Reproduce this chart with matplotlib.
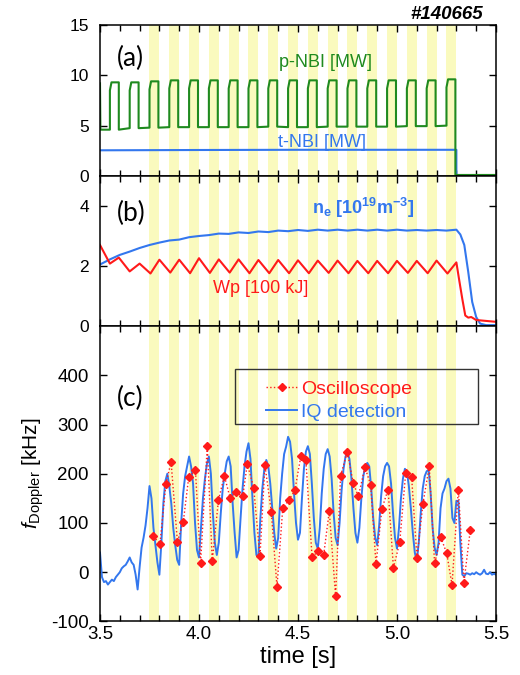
import numpy as np
import matplotlib as mpl
mpl.use('Agg')
import matplotlib.pyplot as plt
from matplotlib.patches import Rectangle
from matplotlib.ticker import MultipleLocator

plt.rcParams['font.family'] = ['Liberation Sans', 'DejaVu Sans']
plt.rcParams['mathtext.fontset'] = 'custom'
plt.rcParams['mathtext.rm'] = 'Liberation Sans'
plt.rcParams['mathtext.it'] = 'Liberation Sans:italic'
plt.rcParams['mathtext.bf'] = 'Liberation Sans:bold'
plt.rcParams['axes.unicode_minus'] = False

GREEN = '#1f8a1f'
BLUE = '#3377ee'
RED = '#ff1a1a'
BAND = '#fafabe'

# p-NBI modulation windows (shaded)
band_start = [3.75, 3.85, 3.95, 4.05, 4.15, 4.25, 4.35, 4.45,
              4.55, 4.65, 4.75, 4.85, 4.95, 5.05, 5.15, 5.25]
band_width = 0.05

# (a) heating power
pnbi_on = [3.55, 3.65, 3.75, 3.85, 3.95, 4.05, 4.15, 4.25, 4.35,
           4.45, 4.55, 4.65, 4.75, 4.85, 4.95, 5.05, 5.15, 5.25]
pnbi_high = [9.3, 9.3, 9.4, 9.5, 9.5, 9.5, 9.5, 9.5, 9.5,
             9.5, 9.5, 9.5, 9.5, 9.5, 9.5, 9.5, 9.5, 9.6]
pnbi_low = [4.6, 4.75, 4.8, 4.85, 4.85, 4.85, 4.85, 4.85, 4.9,
            4.85, 4.85, 4.9, 4.9, 4.9, 4.9, 4.95, 4.95, 5.0]
pnbi_width = 0.045
pnbi_start = 9.2
pnbi_after = 0.1

tnbi_t = [3.50, 4.00, 4.50, 5.00, 5.30, 5.30, 5.50]
tnbi_v = [2.55, 2.58, 2.6, 2.6, 2.6, 0.0, 0.0]

# (b) density and stored energy
ne_t = [3.50, 3.55, 3.60, 3.65, 3.70, 3.75, 3.80, 3.85, 3.90, 3.95,
        4.00, 4.05, 4.10, 4.15, 4.20, 4.25, 4.30, 4.35, 4.40, 4.45,
        4.50, 4.55, 4.60, 4.65, 4.70, 4.75, 4.80, 4.85, 4.90, 4.95,
        5.00, 5.05, 5.10, 5.15, 5.20, 5.25, 5.30, 5.32, 5.34, 5.36,
        5.38, 5.40, 5.42, 5.45, 5.50]
ne_v = [2.05, 2.22, 2.37, 2.48, 2.60, 2.70, 2.78, 2.85, 2.88, 2.96,
        3.00, 3.03, 3.08, 3.07, 3.12, 3.10, 3.15, 3.13, 3.18, 3.16,
        3.20, 3.17, 3.21, 3.18, 3.21, 3.18, 3.21, 3.18, 3.21, 3.18,
        3.21, 3.18, 3.20, 3.18, 3.20, 3.18, 3.21, 3.05, 2.70, 1.80,
        0.80, 0.30, 0.08, 0.03, 0.03]

wp_t = [3.50, 3.55, 3.595, 3.65, 3.70, 3.755, 3.80, 3.855, 3.90, 3.955,
        4.00, 4.055, 4.10, 4.155, 4.20, 4.255, 4.30, 4.355, 4.40, 4.455,
        4.50, 4.555, 4.60, 4.655, 4.70, 4.755, 4.80, 4.855, 4.90, 4.955,
        5.00, 5.055, 5.10, 5.155, 5.20, 5.255, 5.30, 5.315, 5.33, 5.345,
        5.36, 5.375, 5.40, 5.45, 5.50]
wp_v = [2.70, 2.08, 2.28, 1.82, 2.08, 1.75, 2.21, 1.78, 2.21, 1.76,
        2.26, 1.77, 2.22, 1.78, 2.22, 1.76, 2.20, 1.76, 2.20, 1.76,
        2.19, 1.76, 2.18, 1.77, 2.18, 1.76, 2.17, 1.76, 2.17, 1.76,
        2.17, 1.77, 2.17, 1.76, 2.18, 1.75, 2.12, 1.50, 0.90, 0.35,
        0.28, 0.30, 0.20, 0.17, 0.14]

# (c) Doppler shift frequency
iq_t = np.round(np.arange(3.50, 5.505, 0.01), 2)
iq_v = [40, -10, -20, -18, -25, -20, -15, -18, -10, -5,
        0, 8, 12, 15, 22, 30, 20, 15, -5, -35,
        10, 50, 70, 95, 130, 175, 150, 90, 55, 20,
        -5, 60, 140, 185, 200, 175, 140, 90, 55, 25,
        15, 100, 160, 195, 215, 235, 215, 180, 100, 45,
        30, 90, 150, 190, 220, 235, 200, 120, 60, 35,
        60, 120, 170, 200, 225, 235, 215, 140, 80, 30,
        45, 110, 170, 215, 245, 262, 230, 150, 80, 35,
        30, 110, 170, 210, 228, 215, 180, 130, 80, 48,
        70, 150, 200, 240, 255, 275, 265, 230, 160, 100,
        66, 80, 150, 210, 245, 256, 240, 180, 110, 60,
        48, 90, 160, 210, 240, 250, 235, 190, 120, 70,
        55, 100, 165, 210, 235, 242, 230, 190, 130, 80,
        60, 90, 150, 195, 215, 222, 215, 170, 110, 70,
        55, 95, 155, 195, 215, 222, 215, 180, 120, 70,
        48, 90, 150, 190, 210, 205, 175, 130, 80, 40,
        22, 60, 120, 170, 195, 205, 208, 160, 90, 50,
        35, 60, 130, 160, 170, 185, 190, 170, 110, 100,
        145, 145, 60, -5, -8, -2, -3, -5, -2, -4,
        0, -3, -5, -2, 5, -3, -4, 0, -5, -3,
        -5]

osc_t = [3.769, 3.803, 3.833, 3.859, 3.891, 3.921, 3.948, 3.982, 4.008, 4.042,
         4.067, 4.098, 4.128, 4.157, 4.187, 4.221, 4.244, 4.276, 4.308, 4.333,
         4.365, 4.394, 4.423, 4.453, 4.484, 4.515, 4.540, 4.571, 4.603, 4.630,
         4.658, 4.690, 4.715, 4.749, 4.779, 4.805, 4.838, 4.867, 4.894, 4.924,
         4.955, 4.982, 5.014, 5.044, 5.074, 5.101, 5.131, 5.163, 5.190, 5.221,
         5.251, 5.278, 5.310, 5.338, 5.370]
osc_v = [73, 58, 180, 224, 62, 103, 193, 208, 19, 257,
         22, 146, 196, 151, 162, 154, 220, 172, 32, 218,
         123, -30, 130, 146, 166, 237, 227, 31, 43, 36,
         124, -49, 195, 245, 181, 154, 213, 178, 16, 129,
         168, 9, 61, 202, 193, 29, 139, 215, 18, 71,
         39, -26, 168, -21, 85]

# square-wave p-NBI trace from the pulse timing
pt = [3.50, 3.502]
pv = [pnbi_start, pnbi_low[0]]
for t0, hi, lo in zip(pnbi_on, pnbi_high, pnbi_low):
    pt += [t0, t0, t0 + 0.008, t0 + pnbi_width]
    pv += [lo, hi - 0.8, hi, hi]
    if t0 != pnbi_on[-1]:
        pt.append(t0 + pnbi_width)
        pv.append(lo)
pt += [pnbi_on[-1] + pnbi_width, 5.50]
pv += [pnbi_after, pnbi_after]

fig = plt.figure(figsize=(5.2, 6.75), dpi=100)
ax1 = fig.add_axes([0.1923, 0.7393, 0.7615, 0.2237])
ax2 = fig.add_axes([0.1923, 0.517, 0.7615, 0.2223])
ax3 = fig.add_axes([0.1923, 0.0793, 0.7615, 0.4377])

for ax in (ax1, ax2, ax3):
    for t0 in band_start:
        ax.axvspan(t0, t0 + band_width, color=BAND, lw=0, zorder=0)
    ax.set_xlim(3.5, 5.5)
    ax.xaxis.set_major_locator(MultipleLocator(0.5))
    ax.xaxis.set_minor_locator(MultipleLocator(0.1))
    ax.tick_params(which='both', direction='in', top=True, right=True,
                   width=1, colors='k')
    ax.tick_params(which='major', length=5)
    ax.tick_params(which='minor', length=4)
    ax.tick_params(axis='y', pad=8)
    for sp in ax.spines.values():
        sp.set_linewidth(1.1)

# (a)
ax1.plot(tnbi_t, tnbi_v, color=BLUE, lw=1.5)
ax1.plot(pt, pv, color=GREEN, lw=1.5)
ax1.set_ylim(0, 15)
ax1.set_yticks([0, 5, 10, 15])
ax1.tick_params(axis='y', labelsize=12.5)
ax1.set_xticklabels([])
ax1.text(0.043, 0.78, '(a)', transform=ax1.transAxes, fontsize=19,
         family=['Lato', 'DejaVu Sans'], va='center', ha='left')
ax1.text(4.64, 11.3, 'p-NBI [MW]', color=GREEN, fontsize=13,
         ha='center', va='center')
ax1.text(4.62, 3.3, 't-NBI [MW]', color=BLUE, fontsize=13,
         ha='center', va='center')

# (b)
ax2.plot(ne_t, ne_v, color=BLUE, lw=1.5)
ax2.plot(wp_t, wp_v, color=RED, lw=1.5)
ax2.set_ylim(0, 5)
ax2.set_yticks([0, 2, 4])
ax2.tick_params(axis='y', labelsize=12.5)
ax2.set_xticklabels([])
ax2.text(0.043, 0.753, '(b)', transform=ax2.transAxes, fontsize=19,
         family=['Lato', 'DejaVu Sans'], va='center', ha='left')
ax2.text(4.57, 3.92, r'$\mathbf{n_e\ [10^{19}m^{-3}]}$', color=BLUE,
         fontsize=13, ha='left', va='center')
ax2.text(4.31, 1.26, 'Wp [100 kJ]', color=RED, fontsize=13,
         ha='center', va='center')

# (c)
iq_line, = ax3.plot(iq_t, iq_v, color=BLUE, lw=1.4, label='IQ detection')
osc_line, = ax3.plot(osc_t, osc_v, ls=':', color=RED, lw=1, marker='D',
                     ms=4.5, label='Oscilloscope')
ax3.set_ylim(-100, 500)
ax3.set_yticks([-100, 0, 100, 200, 300, 400])
ax3.tick_params(axis='both', labelsize=13.5)
ax3.set_xlabel('time [s]', fontsize=17, labelpad=2)
ax3.set_ylabel(r'$\mathit{f}_{\mathrm{Doppler}}$ [kHz]', fontsize=15,
               labelpad=4)
ax3.text(0.043, 0.756, '(c)', transform=ax3.transAxes, fontsize=19,
         family=['Lato', 'DejaVu Sans'], va='center', ha='left')
ax3.add_patch(Rectangle((0.341, 0.668), 0.614, 0.186, transform=ax3.transAxes,
                        fill=False, ec='#333333', lw=1, zorder=5))
leg = ax3.legend(handles=[osc_line, iq_line], loc='upper left',
                 bbox_to_anchor=(0.42, 0.815), frameon=False, fontsize=14,
                 handlelength=1.6, handletextpad=0.2, labelspacing=0.25,
                 borderpad=0, borderaxespad=0)
for txt, col in zip(leg.get_texts(), [RED, BLUE]):
    txt.set_color(col)

fig.text(0.929, 0.978, '#140665', fontsize=13.5, fontweight='bold',
         fontstyle='italic', ha='right', va='center')

fig.savefig('out.png', dpi=100)
